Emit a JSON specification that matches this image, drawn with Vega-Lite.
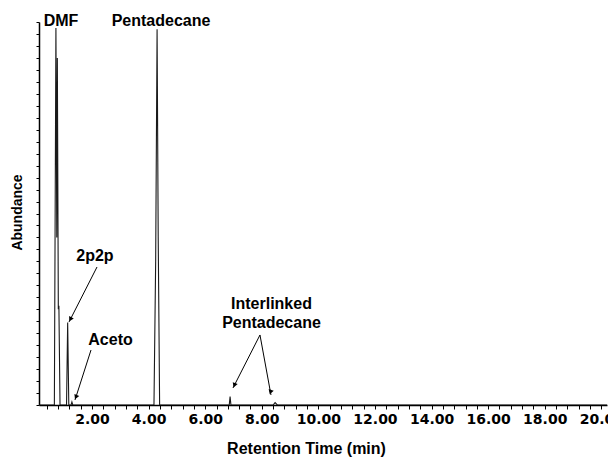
{
  "$schema": "https://vega.github.io/schema/vega-lite/v6.json",
  "width": 568,
  "height": 383,
  "autosize": {"type": "none"},
  "padding": {"left": 39, "top": 22, "right": 1, "bottom": 52},
  "background": "white",
  "config": {
    "view": {"stroke": null},
    "axis": {"grid": false, "domainColor": "black", "tickColor": "black", "domainWidth": 1.5, "labelColor": "black", "titleColor": "black"}
  },
  "datasets": {
    "trace": [
      {"t": 0.13, "abundance": 0},
      {"t": 0.67, "abundance": 0},
      {"t": 0.725, "abundance": 31.5},
      {"t": 0.755, "abundance": 14},
      {"t": 0.775, "abundance": 29},
      {"t": 0.81, "abundance": 8},
      {"t": 0.83, "abundance": 8.3},
      {"t": 0.87, "abundance": 0},
      {"t": 1.10, "abundance": 0},
      {"t": 1.14, "abundance": 6.9},
      {"t": 1.18, "abundance": 0},
      {"t": 1.26, "abundance": 0},
      {"t": 1.29, "abundance": 0.25},
      {"t": 1.32, "abundance": 0},
      {"t": 4.19, "abundance": 0},
      {"t": 4.25, "abundance": 12},
      {"t": 4.30, "abundance": 31.4},
      {"t": 4.34, "abundance": 14},
      {"t": 4.39, "abundance": 0},
      {"t": 6.85, "abundance": 0},
      {"t": 6.88, "abundance": 0.7},
      {"t": 6.91, "abundance": 0},
      {"t": 8.40, "abundance": 0},
      {"t": 8.47, "abundance": 0.2},
      {"t": 8.55, "abundance": 0},
      {"t": 20.2, "abundance": 0}
    ],
    "labels": [
      {"text": "DMF", "t": 0.905, "abundance": 32.08},
      {"text": "Pentadecane", "t": 4.44, "abundance": 32.08},
      {"text": "2p2p", "t": 2.105, "abundance": 12.49},
      {"text": "Aceto", "t": 2.654, "abundance": 5.47},
      {"text": "Interlinked", "t": 8.343, "abundance": 8.48},
      {"text": "Pentadecane", "t": 8.343, "abundance": 6.81}
    ],
    "arrows": [
      {"arrow": "2p2p", "t1": 2.177, "a1": 11.53, "t2": 1.187, "a2": 6.93, "th": 1.236, "ah": 7.16},
      {"arrow": "Aceto", "t1": 1.965, "a1": 4.595, "t2": 1.399, "a2": 0.418, "th": 1.431, "ah": 0.66},
      {"arrow": "Inter1", "t1": 7.936, "a1": 5.85, "t2": 6.982, "a2": 1.42, "th": 7.032, "ah": 1.646},
      {"arrow": "Inter2", "t1": 7.936, "a1": 5.85, "t2": 8.325, "a2": 0.836, "th": 8.307, "ah": 1.086}
    ]
  },
  "layer": [
    {
      "data": {"name": "trace"},
      "mark": {"type": "line", "color": "#1a1a1a", "strokeWidth": 1.1, "clip": true},
      "encoding": {
        "x": {
          "field": "t", "type": "quantitative",
          "scale": {"domain": [0.127, 20.2], "nice": false, "zero": false},
          "axis": {
            "title": "Retention Time (min)",
            "values": [0.4, 0.8, 1.2, 1.6, 2, 2.4, 2.8, 3.2, 3.6, 4, 4.4, 4.8, 5.2, 5.6, 6, 6.4, 6.8, 7.2, 7.6, 8, 8.4, 8.8, 9.2, 9.6, 10, 10.4, 10.8, 11.2, 11.6, 12, 12.4, 12.8, 13.2, 13.6, 14, 14.4, 14.8, 15.2, 15.6, 16, 16.4, 16.8, 17.2, 17.6, 18, 18.4, 18.8, 19.2, 19.6, 20],
            "tickCount": 200,
            "labelExpr": "datum.value % 2 == 0 ? format(datum.value, '.2f') : ''",
            "labelOverlap": false,
            "labelFlush": false,
            "labelBound": false,
            "tickSize": 4,
            "tickWidth": 1,
            "labelFont": "DejaVu Sans",
            "labelFontWeight": "bold",
            "labelFontSize": 14,
            "labelPadding": 3,
            "titleFont": "Liberation Sans",
            "titleFontSize": 16,
            "titleFontWeight": "bold",
            "titleX": 267,
            "titleY": 48,
            "titleAlign": "center",
            "titleBaseline": "alphabetic"
          }
        },
        "y": {
          "field": "abundance", "type": "quantitative",
          "scale": {"domain": [0, 32], "nice": false},
          "axis": {
            "title": "Abundance",
            "values": [0, 1, 2, 3, 4, 5, 6, 7, 8, 9, 10, 11, 12, 13, 14, 15, 16, 17, 18, 19, 20, 21, 22, 23, 24, 25, 26, 27, 28, 29, 30, 31, 32],
            "tickCount": 200,
            "labels": false,
            "tickSize": 3,
            "tickWidth": 1,
            "titleFont": "Liberation Sans",
            "titleFontSize": 14,
            "titleFontWeight": "bold",
            "titleX": -21.5,
            "titleY": 190,
            "titleAlign": "center",
            "titleBaseline": "middle"
          }
        }
      }
    },
    {
      "data": {"name": "labels"},
      "mark": {"type": "text", "font": "Liberation Sans", "fontSize": 16, "fontWeight": "bold", "color": "black", "align": "center", "baseline": "middle", "clip": false},
      "encoding": {
        "x": {"field": "t", "type": "quantitative"},
        "y": {"field": "abundance", "type": "quantitative"},
        "text": {"field": "text", "type": "nominal"}
      }
    },
    {
      "data": {"name": "arrows"},
      "mark": {"type": "rule", "color": "black", "strokeWidth": 1},
      "encoding": {
        "x": {"field": "t1", "type": "quantitative"},
        "y": {"field": "a1", "type": "quantitative"},
        "x2": {"field": "t2"},
        "y2": {"field": "a2"}
      }
    },
    {
      "data": {"name": "arrows"},
      "mark": {"type": "point", "shape": "triangle-up", "filled": true, "color": "black", "size": 28, "opacity": 1},
      "encoding": {
        "x": {"field": "th", "type": "quantitative"},
        "y": {"field": "ah", "type": "quantitative"},
        "angle": {"field": "arrow", "type": "nominal", "scale": {"domain": ["2p2p", "Aceto", "Inter1", "Inter2"], "range": [207, 198, 207, 170]}, "legend": null}
      }
    }
  ]
}
